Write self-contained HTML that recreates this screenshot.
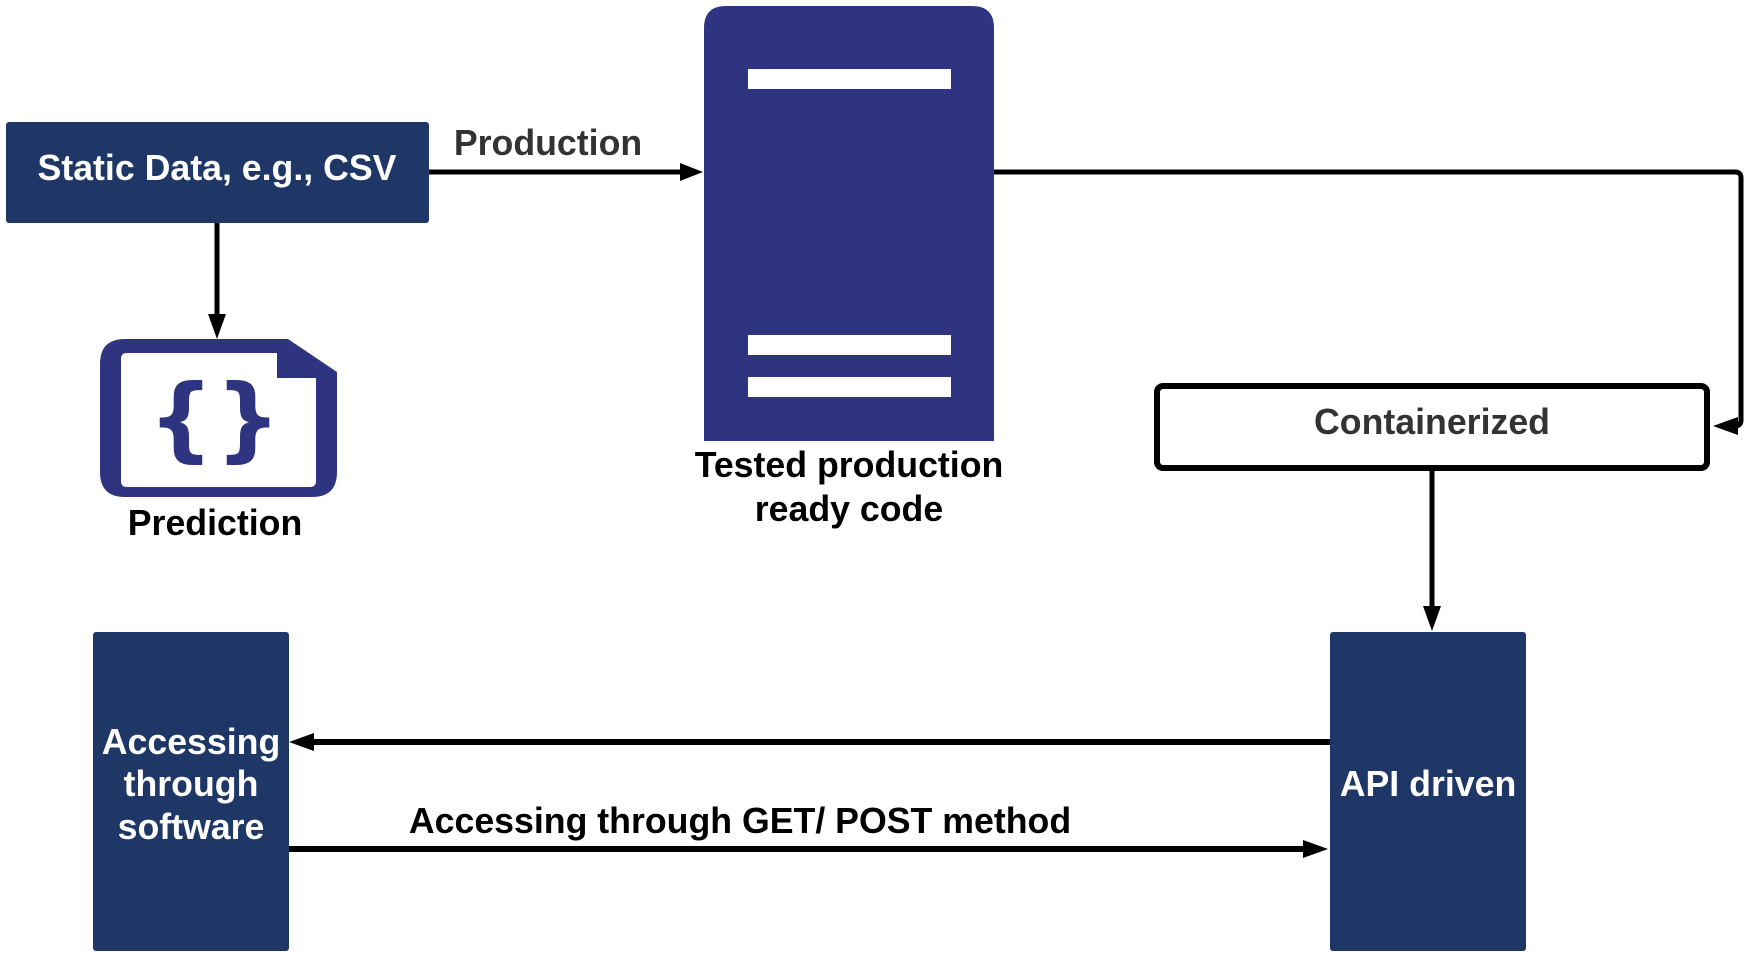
<!DOCTYPE html>
<html><head><meta charset="utf-8"><style>
html,body{margin:0;padding:0;background:#fff;}
svg{display:block}
text{font-family:"Liberation Sans",sans-serif;font-weight:bold;}
</style></head><body>
<svg width="1750" height="956" viewBox="0 0 1750 956" xmlns="http://www.w3.org/2000/svg">
<!-- Static data box -->
<rect x="6" y="122" width="423" height="101" rx="3" fill="#1f3766"/>
<text x="217" y="180" font-size="35.7" fill="#fff" text-anchor="middle">Static Data, e.g., CSV</text>
<!-- Production arrow -->
<line x1="429" y1="172" x2="684" y2="172" stroke="#000" stroke-width="5"/>
<polygon points="703,172 680,163 680,181" fill="#000"/>
<text x="548" y="155" font-size="35.7" fill="#333" text-anchor="middle">Production</text>
<!-- down arrow to prediction -->
<line x1="217" y1="223" x2="217" y2="320" stroke="#000" stroke-width="5"/>
<polygon points="217,339 208,314 226,314" fill="#000"/>
<!-- prediction icon -->
<path d="M125,339 H288 L337,372 V472 Q337,497 312,497 H125 Q100,497 100,472 V364 Q100,339 125,339 Z" fill="#2e3480"/>
<path d="M127,353 H277 V378 H316 V481 Q316,487 310,487 H127 Q121,487 121,481 V359 Q121,353 127,353 Z" fill="#fff"/>
<text x="181" y="450" font-size="92" fill="#2e3480" text-anchor="middle" style="font-family:'DejaVu Sans',sans-serif;font-weight:bold">{</text>
<text x="248" y="450" font-size="92" fill="#2e3480" text-anchor="middle" style="font-family:'DejaVu Sans',sans-serif;font-weight:bold">}</text>
<text x="215" y="535" font-size="35.7" fill="#000" text-anchor="middle">Prediction</text>
<!-- server -->
<path d="M726,6 H972 Q994,6 994,28 V441 H704 V28 Q704,6 726,6 Z" fill="#2e3480"/>
<rect x="748" y="69" width="203" height="20" fill="#fff"/>
<rect x="748" y="335" width="203" height="20" fill="#fff"/>
<rect x="748" y="377" width="203" height="20" fill="#fff"/>
<text x="849" y="477" font-size="35.7" fill="#000" text-anchor="middle">Tested production</text>
<text x="849" y="521" font-size="35.7" fill="#000" text-anchor="middle">ready code</text>
<!-- connector server to containerized -->
<path d="M994,172 H1735 Q1741,172 1741,178 V420 Q1741,426 1735,426 H1725" fill="none" stroke="#000" stroke-width="5"/>
<polygon points="1713,426 1738,417 1738,435" fill="#000"/>
<!-- containerized -->
<rect x="1157" y="386" width="550" height="82" rx="6" fill="#fff" stroke="#000" stroke-width="6"/>
<text x="1432" y="434" font-size="35.7" fill="#333" text-anchor="middle">Containerized</text>
<line x1="1432" y1="471" x2="1432" y2="612" stroke="#000" stroke-width="5"/>
<polygon points="1432,631 1423,606 1441,606" fill="#000"/>
<!-- API box -->
<rect x="1330" y="632" width="196" height="319" rx="3" fill="#1f3766"/>
<text x="1428" y="796" font-size="35.7" fill="#fff" text-anchor="middle">API driven</text>
<!-- Accessing box -->
<rect x="93" y="632" width="196" height="319" rx="3" fill="#1f3766"/>
<text x="191" y="754" font-size="35.7" fill="#fff" text-anchor="middle">Accessing</text>
<text x="191" y="796" font-size="35.7" fill="#fff" text-anchor="middle">through</text>
<text x="191" y="839" font-size="35.7" fill="#fff" text-anchor="middle">software</text>
<!-- arrows between -->
<line x1="1330" y1="742" x2="308" y2="742" stroke="#000" stroke-width="6"/>
<polygon points="289,742 314,733 314,751" fill="#000"/>
<line x1="289" y1="849" x2="1310" y2="849" stroke="#000" stroke-width="6"/>
<polygon points="1328,849 1303,840 1303,858" fill="#000"/>
<text x="740" y="833" font-size="35.7" fill="#000" text-anchor="middle">Accessing through GET/ POST method</text>
</svg>
</body></html>
